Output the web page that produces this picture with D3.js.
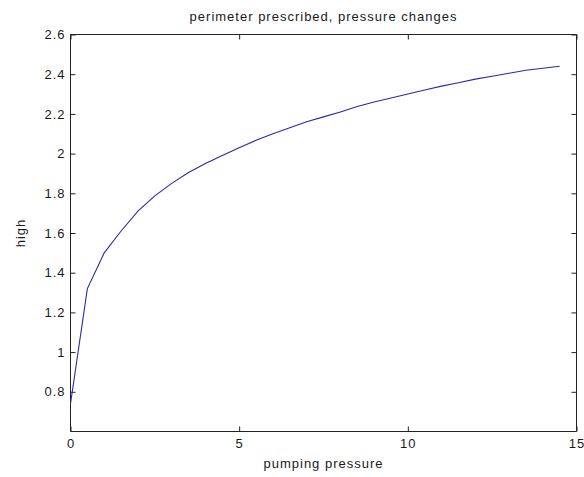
<!DOCTYPE html>
<html>
<head>
<meta charset="utf-8">
<script src="https://cdn.jsdelivr.net/npm/d3@7"></script>
<style>
  html, body { margin: 0; padding: 0; background: #fff; }
  svg { display: block; }
  text { font-family: "Liberation Sans", Arial, Helvetica, sans-serif; fill: #1a1a1a; }
</style>
</head>
<body>
<script>
const titleText = "perimeter prescribed, pressure changes";
const xLabelText = "pumping pressure";
const yLabelText = "high";

const pumpingPressure = [0, 0.5, 1, 1.5, 2, 2.5, 3, 3.5, 4, 4.5, 5, 5.5, 6, 6.5, 7, 7.5,
  8, 8.5, 9, 9.5, 10, 10.5, 11, 11.5, 12, 12.5, 13, 13.5, 14, 14.5];
const highValues = [0.74, 1.32, 1.50, 1.61, 1.71, 1.787, 1.85, 1.905, 1.95, 1.99, 2.03,
  2.067, 2.10, 2.13, 2.16, 2.185, 2.21, 2.237, 2.26, 2.28, 2.30, 2.32, 2.34, 2.357,
  2.375, 2.39, 2.405, 2.42, 2.43, 2.44];

const xTicks = [0, 5, 10, 15];
const yTicks = [0.8, 1, 1.2, 1.4, 1.6, 1.8, 2, 2.2, 2.4, 2.6];
const xDomain = [0, 15];
const yDomain = [0.6, 2.6];

const W = 584, H = 477;
const m = { left: 70.5, right: 576.5, top: 34.5, bottom: 431.5 };
const fontSize = 13;
const letterSpacing = 1;

const svg = d3.select("body").append("svg").attr("width", W).attr("height", H);

const x = d3.scaleLinear().domain(xDomain).range([m.left, m.right]);
const y = d3.scaleLinear().domain(yDomain).range([m.bottom, m.top]);

const axisColor = "#222";
const tickLen = 5;
const fmt = d => String(d);

const gB = svg.append("g").attr("transform", `translate(0,${m.bottom})`)
  .call(d3.axisBottom(x).tickValues(xTicks).tickFormat(fmt).tickSize(-tickLen).tickPadding(7));
const gT = svg.append("g").attr("transform", `translate(0,${m.top})`)
  .call(d3.axisTop(x).tickValues(xTicks).tickFormat("").tickSize(-tickLen));
const gL = svg.append("g").attr("transform", `translate(${m.left},0)`)
  .call(d3.axisLeft(y).tickValues(yTicks).tickFormat(fmt).tickSize(-tickLen).tickPadding(5));
const gR = svg.append("g").attr("transform", `translate(${m.right},0)`)
  .call(d3.axisRight(y).tickValues(yTicks).tickFormat("").tickSize(-tickLen));

[gB, gT, gL, gR].forEach(g => {
  g.select(".domain").attr("stroke", axisColor).attr("stroke-width", 1);
  g.selectAll(".tick line").attr("stroke", axisColor).attr("stroke-width", 1);
  g.selectAll(".tick text").attr("font-size", fontSize).attr("fill", "#1a1a1a")
    .attr("letter-spacing", letterSpacing)
    .attr("font-family", '"Liberation Sans", Arial, sans-serif');
});
gB.selectAll(".domain").attr("d", `M${m.left},0H${m.right}`);
gT.selectAll(".domain").attr("d", `M${m.left},0H${m.right}`);
gL.selectAll(".domain").attr("d", `M0,${m.top}V${m.bottom}`);
gR.selectAll(".domain").attr("d", `M0,${m.top}V${m.bottom}`);

const line = d3.line().x((d, i) => x(pumpingPressure[i])).y(d => y(d));
svg.append("path")
  .datum(highValues)
  .attr("d", line)
  .attr("fill", "none")
  .attr("stroke", "#2a2aa6")
  .attr("stroke-width", 1.1);

svg.append("text")
  .attr("x", (m.left + m.right) / 2)
  .attr("y", 21)
  .attr("text-anchor", "middle")
  .attr("font-size", fontSize)
  .attr("letter-spacing", letterSpacing)
  .text(titleText);

svg.append("text")
  .attr("x", (m.left + m.right) / 2)
  .attr("y", 468)
  .attr("text-anchor", "middle")
  .attr("font-size", fontSize)
  .attr("letter-spacing", letterSpacing)
  .text(xLabelText);

svg.append("text")
  .attr("transform", `translate(${25},${(m.top + m.bottom) / 2}) rotate(-90)`)
  .attr("text-anchor", "middle")
  .attr("font-size", fontSize)
  .attr("letter-spacing", letterSpacing)
  .text(yLabelText);
</script>
</body>
</html>
